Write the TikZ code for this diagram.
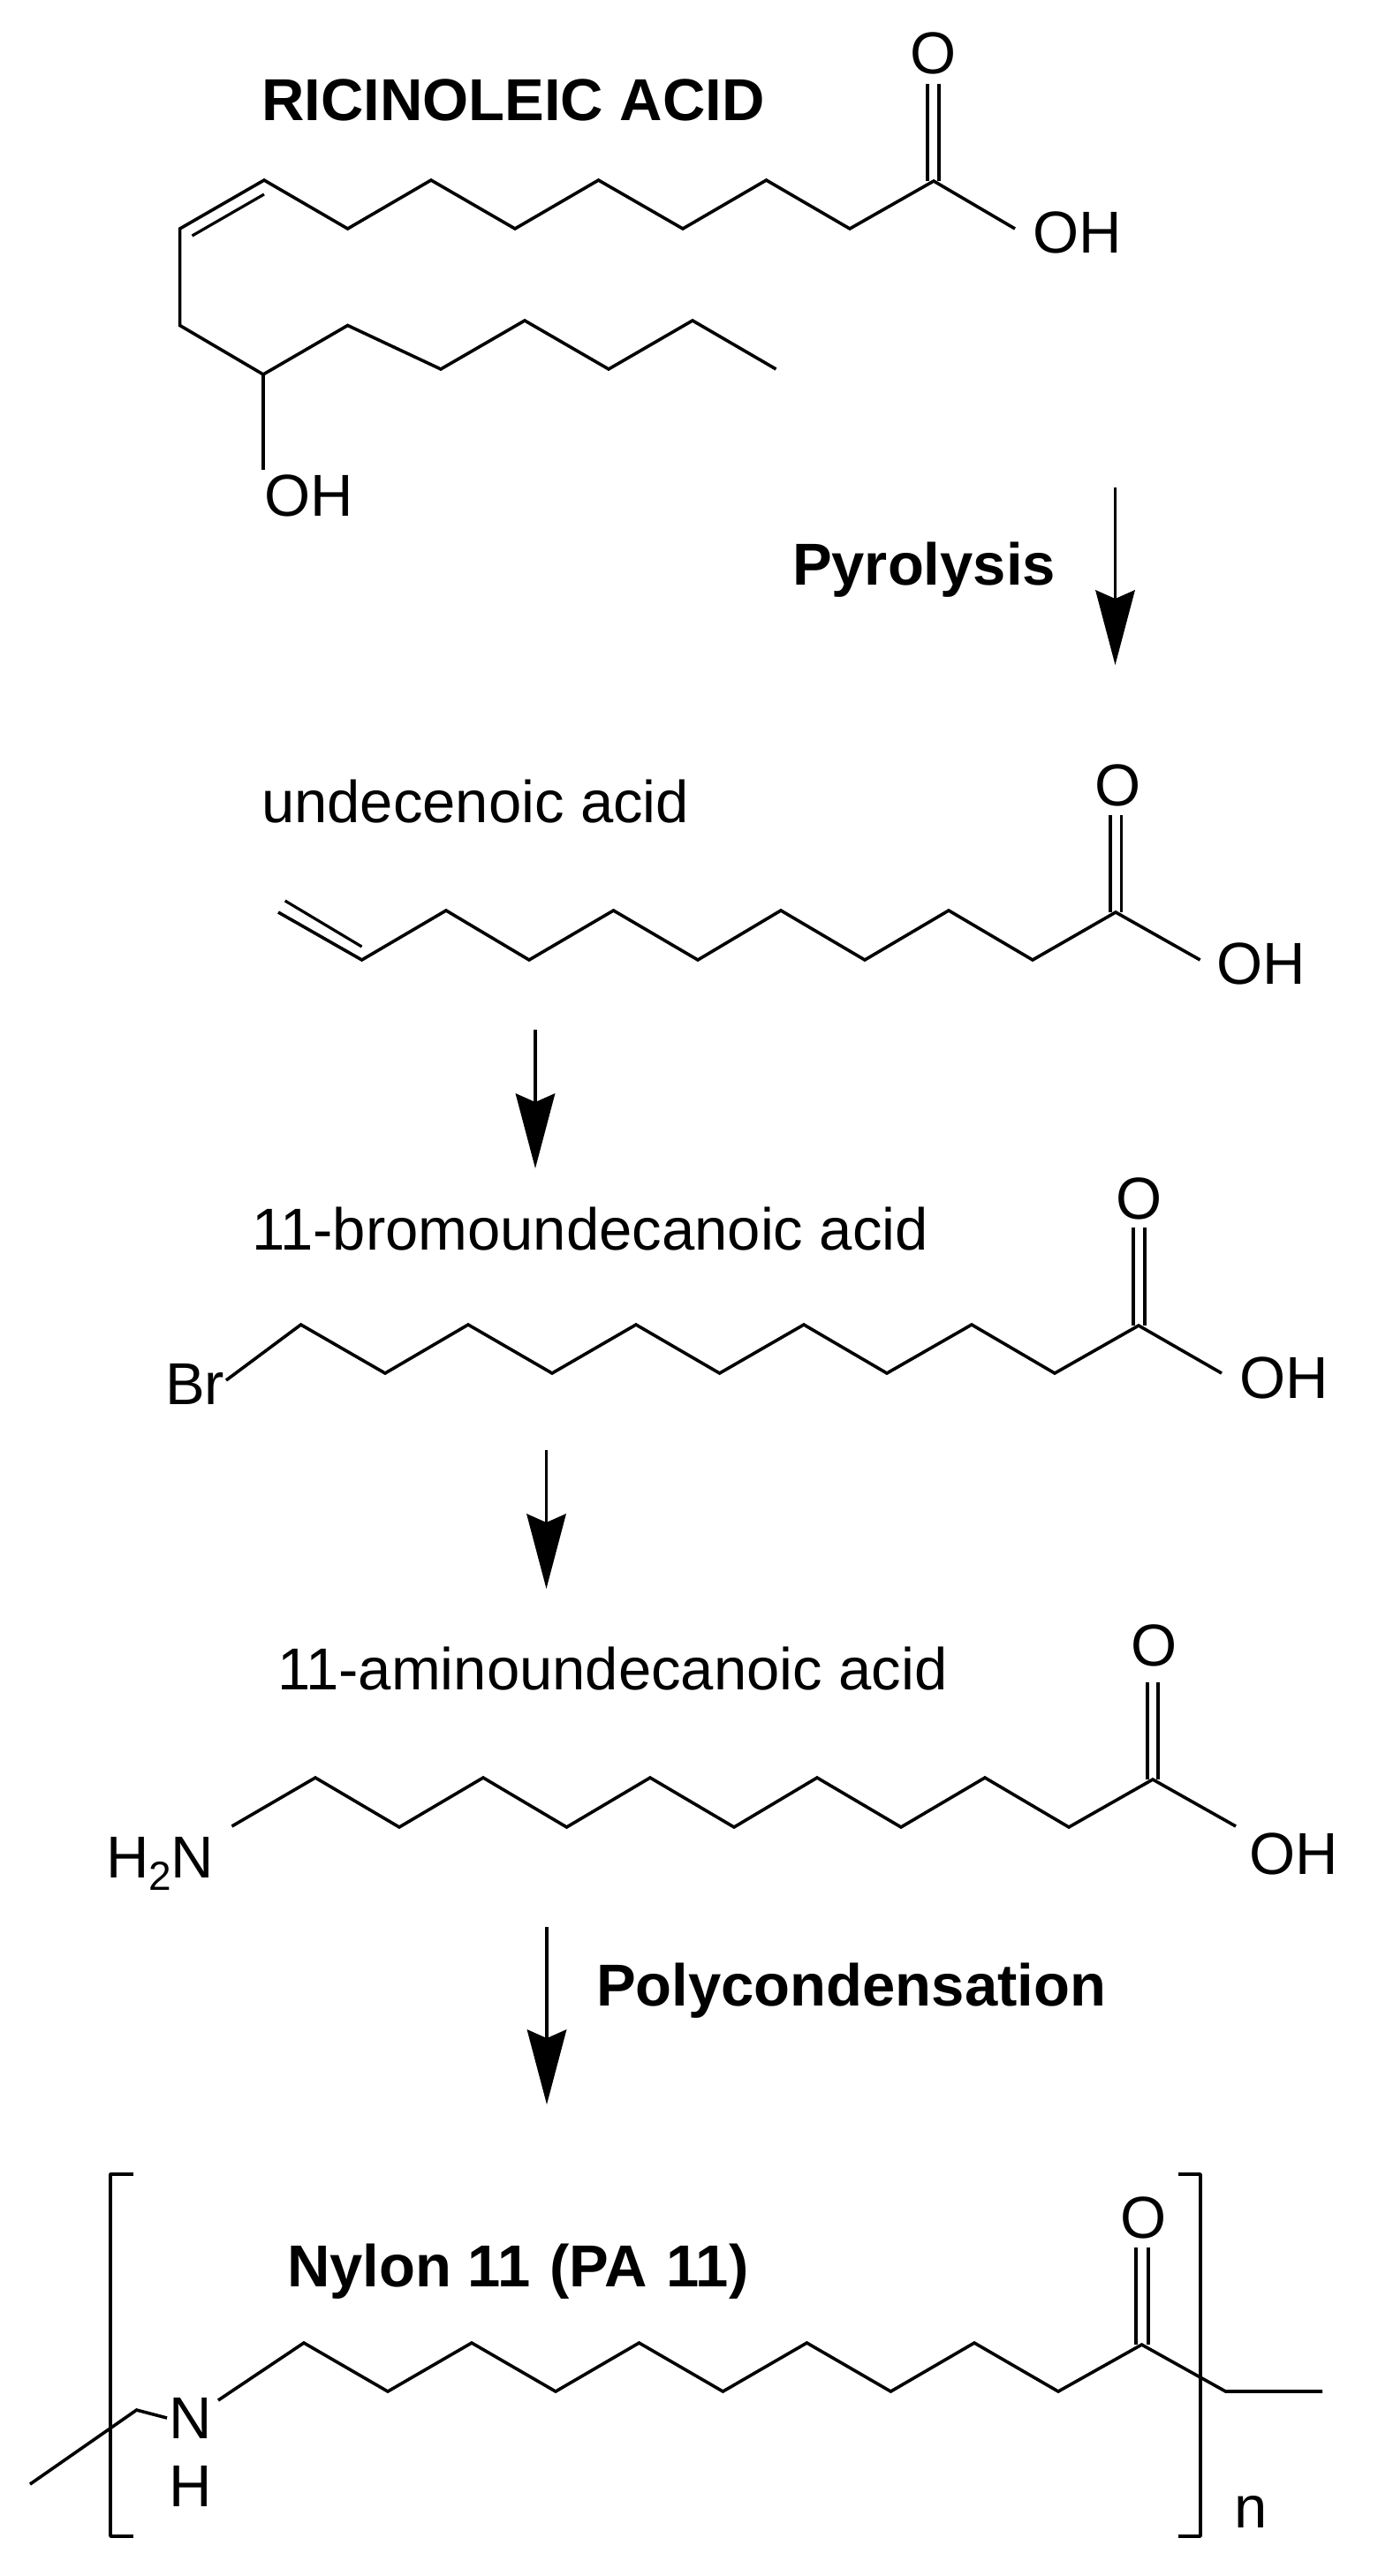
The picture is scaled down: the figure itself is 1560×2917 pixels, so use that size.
\documentclass[tikz,border=0pt]{standalone}
\usepackage{fontspec}
\setmainfont{Liberation Sans}
\usetikzlibrary{arrows.meta}
\tikzset{
  bond/.style={draw=black,line width=3.6pt,line join=miter,miter limit=10},
  thinbond/.style={draw=black,line width=3.2pt},
  bracketline/.style={draw=black,line width=3.6pt,line join=round},
  rxnarrow/.style={draw=black,line width=3.4pt,-{Stealth[length=85pt,width=45pt,inset=10pt,line width=0pt]}},
  atom/.style={inner sep=0pt,outer sep=0pt,anchor=base,font=\fontsize{67}{70}\selectfont},
  atomw/.style={atom,anchor=base west},
  label/.style={inner sep=0pt,outer sep=0pt,anchor=base west,font=\fontsize{67}{70}\selectfont},
  boldlabel/.style={label,font=\fontsize{67}{70}\selectfont\bfseries}
}
\begin{document}
\begin{tikzpicture}[x=1pt,y=-1pt]
\useasboundingbox (0,0) rectangle (1560,2917);
\fill[white] (0,0) rectangle (1560,2917);

% Ricinoleic acid
\node[boldlabel] (ricname) at (296,136) {RICINOLEIC ACID};
\node[atom] (ricO) at (1057,84) {O};
\node[atomw] (ricOH) at (1169,286) {OH};
\node[atomw] (ricOHb) at (299.6,584) {OH};
\draw[bond] (1149,259) coordinate (ricOe) -- (1057,205) coordinate (ricC1) -- (962,259) -- (867.5,204) -- (773,259) -- (677.5,204) -- (583,259) -- (488,204) -- (393.6,259) -- (299,204) coordinate (ricD1) -- (203.6,259) coordinate (ricD2) -- (203.6,368.5) -- (298,424) coordinate (ricCH) -- (393.6,368.5) -- (499,418) -- (594,363) -- (689,418) -- (784,363) -- (878.5,418);
\draw[thinbond] (217.5,267) -- (299,220);
\draw[bond] (ricCH) -- (298,532) coordinate (ricOHe);
\draw[thinbond] (1050,95) -- (1050,205);
\draw[thinbond] (1063,95) -- (1063,205);

% Arrow 1
\coordinate (a1s) at (1262.5,552);
\coordinate (a1e) at (1262.5,753);
\draw[rxnarrow] (a1s) -- (a1e);
\node[boldlabel] (pyro) at (897,662) {Pyrolysis};

% Undecenoic acid
\node[label] (undname) at (296,931) {undecenoic acid};
\node[atom] (undO) at (1266,912.5) {O};
\node[atomw] (undOH) at (1377,1114) {OH};
\draw[bond] (315,1033) -- (409.6,1087) -- (505,1031) -- (599,1087) -- (694.5,1031) -- (790,1087) -- (884,1031) -- (979,1087) -- (1074,1031) -- (1169,1087) -- (1263,1033) coordinate (undC1) -- (1358.6,1087);
\draw[thinbond] (322.7,1020) -- (409.6,1072);
\draw[thinbond] (1257,923) -- (1257,1033);
\draw[thinbond] (1269.5,923) -- (1269.5,1033);

% Arrow 2
\coordinate (a2s) at (606,1166);
\coordinate (a2e) at (606,1323);
\draw[rxnarrow] (a2s) -- (a2e);

% 11-bromoundecanoic acid
\node[label] (brname) at (285,1415.5) {1{}1-bromoundecanoic acid};
\node[atom] (brO) at (1290,1380) {O};
\node[atomw] (brOH) at (1403,1583) {OH};
\node[atomw] (brBr) at (187,1590) {Br};
\draw[bond] (256,1563) -- (340.6,1500) -- (436,1555) -- (530,1500) -- (625,1555) -- (720,1500) -- (814.6,1555) -- (910,1500) -- (1004,1555) -- (1100,1500) -- (1194,1555) -- (1289,1501) coordinate (brC1) -- (1383,1555);
\draw[thinbond] (1283,1390) -- (1283,1501);
\draw[thinbond] (1296,1390) -- (1296,1501);

% Arrow 3
\coordinate (a3s) at (618.5,1642);
\coordinate (a3e) at (618.5,1799);
\draw[rxnarrow] (a3s) -- (a3e);

% 11-aminoundecanoic acid
\node[label] (amname) at (314,1913) {1{}1-aminoundecanoic acid};
\node[atom] (amO) at (1307,1886) {O};
\node[atomw] (amOH) at (1414,2122) {OH};
\node[atomw] (amN) at (120,2126) {H\raisebox{-14pt}{\fontsize{46}{50}\selectfont 2}N};
\draw[bond] (262.5,2068) -- (357,2013) -- (452,2069) -- (547,2013) -- (641.5,2069) -- (736,2013) -- (831,2069) -- (925,2013) -- (1020,2069) -- (1115,2013) -- (1210,2069) -- (1305,2015) coordinate (amC1) -- (1399,2068);
\draw[thinbond] (1299,1905) -- (1299,2015);
\draw[thinbond] (1311,1905) -- (1311,2015);

% Arrow 4
\coordinate (a4s) at (619,2182);
\coordinate (a4e) at (619,2383);
\draw[rxnarrow] (a4s) -- (a4e);
\node[boldlabel] (poly) at (675,2271) {Polycondensation};

% Nylon 11
\node[boldlabel] (nyname) at (325,2589) {Nylon 1{}1\kern3pt{} (P{}A\kern3pt{} 1{}1)};
\node[atom] (nyO) at (1295,2534) {O};
\node[atom] (nyN) at (216,2761) {N};
\node[atom] (nyH) at (216,2838) {H};
\node[atomw] (nyn) at (1397,2862) {n};
\draw[bond] (34,2813) -- (154.6,2729) -- (189,2738);
\draw[bond] (247,2718) -- (344,2653) -- (439,2708) -- (534,2653) -- (629,2708) -- (723.5,2653) -- (818.4,2708) -- (913.4,2653) -- (1008.4,2708) -- (1103,2653) -- (1198,2708) -- (1292.5,2655) coordinate (nyC1) -- (1387.5,2708) -- (1497,2708);
\draw[thinbond] (1286,2545) -- (1286,2655);
\draw[thinbond] (1300,2545) -- (1300,2655);
\draw[bracketline] (151,2462) -- (125,2462) -- (125,2872) -- (151,2872);
\draw[bracketline] (1334,2462) -- (1359,2462) -- (1359,2872) -- (1334,2872);
\end{tikzpicture}
\end{document}
